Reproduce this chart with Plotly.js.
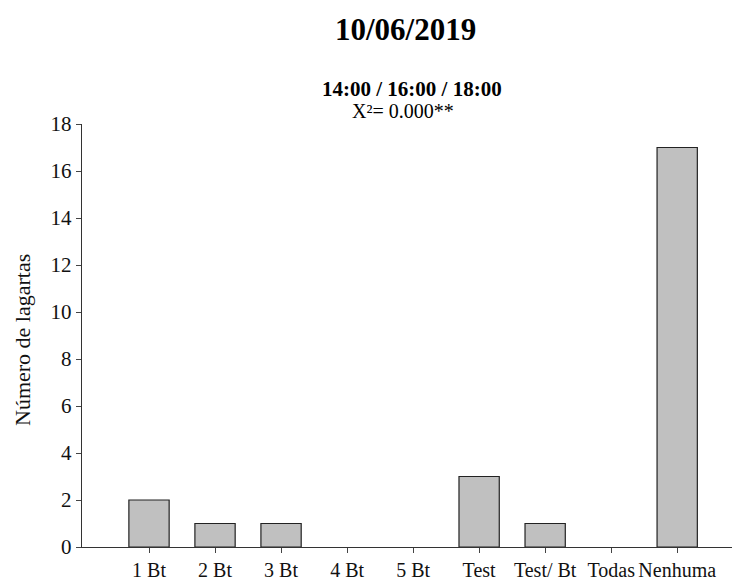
<!DOCTYPE html>
<html>
<head>
<meta charset="utf-8">
<script src="https://cdn.plot.ly/plotly-3.0.1.min.js"></script>
<style>html,body{margin:0;padding:0;background:#fff;}#chart{width:734px;height:580px;}</style>
</head>
<body>
<div id="chart"></div>
<script>
const categories = ["1 Bt", "2 Bt", "3 Bt", "4 Bt", "5 Bt", "Test", "Test/ Bt", "Todas", "Nenhuma"];
const values = [2, 1, 1, 0, 0, 3, 1, 0, 17];
const yTicks = [0, 2, 4, 6, 8, 10, 12, 14, 16, 18];

const font = "'Liberation Serif', 'Times New Roman', serif";
const W = 734, H = 580, L = 82, R = 2, T = 124, B = 33;
const pw = W - L - R, ph = H - T - B;

const trace = {
  type: "bar",
  x: categories.map((c, i) => i),
  y: values,
  width: 0.61,
  marker: {color: "#c0c0c0", line: {color: "#222", width: values.map(v => v > 0 ? 1.2 : 0)}},
  hoverinfo: "x+y"
};

const layout = {
  width: W, height: H,
  margin: {l: L, r: R, t: T, b: B, pad: 0},
  paper_bgcolor: "#fff", plot_bgcolor: "#fff",
  showlegend: false,
  font: {family: font, color: "#111", size: 20},
  xaxis: {
    range: [-1.015, 8.83],
    tickmode: "array",
    tickvals: categories.map((c, i) => i),
    ticktext: categories,
    ticks: "outside", ticklen: 5, tickwidth: 1, tickcolor: "#444",
    showline: true, linecolor: "#333", linewidth: 1.3,
    showgrid: false, zeroline: false,
    tickfont: {family: font, size: 20, color: "#111"},
    fixedrange: true
  },
  yaxis: {
    range: [0, 18],
    tickmode: "array",
    tickvals: yTicks,
    ticktext: yTicks.map(String),
    ticks: "outside", ticklen: 5, tickwidth: 1, tickcolor: "#444",
    showline: true, linecolor: "#333", linewidth: 1.3,
    showgrid: false, zeroline: false,
    tickfont: {family: font, size: 21, color: "#111"},
    fixedrange: true
  },
  annotations: [
    {text: "<b>10/06/2019</b>", xref: "paper", yref: "paper",
     x: (405 - L) / pw, y: 1 + (T - 29) / ph, xanchor: "center", yanchor: "middle",
     showarrow: false, font: {family: font, size: 31, color: "#000"}},
    {text: "<b>14:00 / 16:00 / 18:00</b>", xref: "paper", yref: "paper",
     x: (412 - L) / pw, y: 1 + (T - 89) / ph, xanchor: "center", yanchor: "middle",
     showarrow: false, borderpad: 0, font: {family: font, size: 21, color: "#000"}},
    {text: "X²= 0.000**", xref: "paper", yref: "paper",
     x: (403 - L) / pw, y: 1 + (T - 111) / ph, xanchor: "center", yanchor: "middle",
     showarrow: false, borderpad: 0, font: {family: font, size: 20, color: "#000"}},
    {text: "Número de lagartas", xref: "paper", yref: "paper",
     x: (22 - L) / pw, y: (547 - 340) / ph, xanchor: "center", yanchor: "middle",
     textangle: -90, showarrow: false, font: {family: font, size: 22, color: "#111"}}
  ]
};

Plotly.newPlot("chart", [trace], layout, {displayModeBar: false, staticPlot: true});
</script>
</body>
</html>
